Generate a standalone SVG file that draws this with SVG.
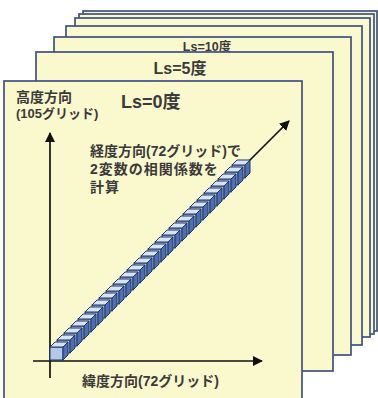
<svg xmlns="http://www.w3.org/2000/svg" xmlns:xlink="http://www.w3.org/1999/xlink" width="378" height="398" viewBox="0 0 378 398">
<style>
.sheet{fill:#FAF8CD;stroke:#3E5283;stroke-width:1.7}
.t{font-family:"Liberation Sans","Noto Sans CJK JP",sans-serif;font-weight:bold;fill:#3A3A3A}
.ax{stroke:#111;stroke-width:1.7;fill:none}
.cf{fill:#B4C8EA;stroke:#1F3766;stroke-width:1}
.ct{fill:#D8E4F6;stroke:#1F3766;stroke-width:1}
.cr{fill:#4F6FAF;stroke:#1F3766;stroke-width:1}
</style>
<defs>
<marker id="ah" viewBox="0 0 10 10" refX="9" refY="5" markerWidth="6" markerHeight="6" orient="auto" markerUnits="strokeWidth">
<path d="M0,0 L10,5 L0,10 Z" fill="#111"/>
</marker>
<g id="cube">
<rect class="cf" x="0" y="0" width="13" height="13"/>
<path class="ct" d="M0,0 L5,-5 L18,-5 L13,0 Z"/>
<path class="cr" d="M13,0 L18,-5 L18,8 L13,13 Z"/>
</g>
</defs>
<g id="sheet7"><rect class="sheet" x="83" y="11" width="294" height="320"/></g>
<g id="sheet6"><rect class="sheet" x="79" y="14" width="295" height="320"/></g>
<g id="sheet5"><rect class="sheet" x="75" y="18" width="295" height="319"/></g>
<g id="sheet4"><rect class="sheet" x="66" y="26" width="296" height="319"/></g>
<g id="sheet3"><rect class="sheet" x="54" y="37" width="297" height="318"/>
<text class="t" x="207" y="51" font-size="12.5" text-anchor="middle">Ls=10度</text></g>
<g id="sheet2"><rect class="sheet" x="36" y="52" width="297" height="319"/>
<text class="t" x="180" y="74" font-size="16" text-anchor="middle">Ls=5度</text></g>
<g id="sheet1"><rect class="sheet" x="4" y="81" width="298" height="330"/>
<text class="t" x="121" y="108" font-size="18">Ls=0度</text>
<text class="t" x="16" y="102" font-size="14">高度方向</text>
<text class="t" x="16" y="118" font-size="13">(105グリッド)</text>
<text class="t" x="90" y="156" font-size="14">経度方向(72グリッド)で</text>
<text class="t" x="90" y="174" font-size="14" letter-spacing="1">2変数の相関係数を</text>
<text class="t" x="90" y="192" font-size="14" letter-spacing="1">計算</text>
<text class="t" x="82" y="386" font-size="14">緯度方向(72グリッド)</text>
</g>
<g id="connectors">
<line class="ax" x1="50" y1="378" x2="50" y2="133" marker-end="url(#ah)"/>
<line class="ax" x1="33" y1="361" x2="262" y2="361" marker-end="url(#ah)"/>
<line class="ax" x1="56" y1="354" x2="289" y2="121" marker-end="url(#ah)"/>
</g>
<g id="cubes">
<use xlink:href="#cube" x="232" y="165"/>
<use xlink:href="#cube" x="225" y="172"/>
<use xlink:href="#cube" x="218" y="179"/>
<use xlink:href="#cube" x="211" y="186"/>
<use xlink:href="#cube" x="204" y="193"/>
<use xlink:href="#cube" x="197" y="200"/>
<use xlink:href="#cube" x="190" y="207"/>
<use xlink:href="#cube" x="183" y="214"/>
<use xlink:href="#cube" x="176" y="221"/>
<use xlink:href="#cube" x="169" y="228"/>
<use xlink:href="#cube" x="162" y="235"/>
<use xlink:href="#cube" x="155" y="242"/>
<use xlink:href="#cube" x="148" y="249"/>
<use xlink:href="#cube" x="141" y="256"/>
<use xlink:href="#cube" x="134" y="263"/>
<use xlink:href="#cube" x="127" y="270"/>
<use xlink:href="#cube" x="120" y="277"/>
<use xlink:href="#cube" x="113" y="284"/>
<use xlink:href="#cube" x="106" y="291"/>
<use xlink:href="#cube" x="99" y="298"/>
<use xlink:href="#cube" x="92" y="305"/>
<use xlink:href="#cube" x="85" y="312"/>
<use xlink:href="#cube" x="78" y="319"/>
<use xlink:href="#cube" x="71" y="326"/>
<use xlink:href="#cube" x="64" y="333"/>
<use xlink:href="#cube" x="57" y="340"/>
<use xlink:href="#cube" x="50" y="347"/>
</g>
</svg>
